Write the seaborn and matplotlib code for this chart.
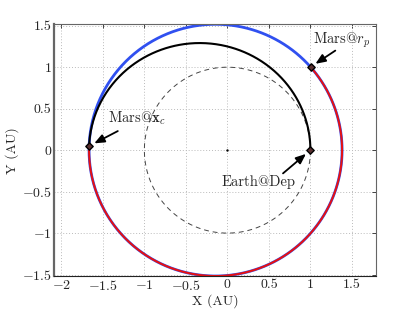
import numpy as np
import pandas as pd
import matplotlib
matplotlib.use("Agg")
import matplotlib.pyplot as plt
import seaborn as sns

# orbit elements (AU, deg)
earth_r = 1.0
mars_a = 1.524
mars_e = 0.0934
transfer_rp = 1.0
transfer_e = 0.25
theta_rp = 45.0      # Mars@r_p
theta_xc = 178.3     # Mars@x_c (arrival)
theta_dep = 0.0      # Earth@Dep

labels = ["Mars@$r_p$", "Mars@$\\mathbf{x}_c$", "Earth@Dep"]
label_xy = [(1.37, 1.33), (-1.09, 0.38), (0.37, -0.38)]
arrow_tail = [(1.30, 1.20), (-1.32, 0.23), (0.67, -0.28)]


def conic(p, e, th_deg):
    th = np.radians(th_deg)
    r = p / (1 + e * np.cos(th))
    return pd.DataFrame({"x": r * np.cos(th), "y": r * np.sin(th)})


mars_p = mars_a * (1 - mars_e ** 2)
trans_p = transfer_rp * (1 + transfer_e)

blue = conic(mars_p, mars_e, np.linspace(theta_rp, theta_rp + 360, 600))
red = conic(mars_p, mars_e, np.linspace(theta_xc, theta_rp + 360, 500))
black = conic(trans_p, transfer_e, np.linspace(theta_dep, theta_xc, 400))
earth = conic(earth_r, 0.0, np.linspace(0, 360, 400))

pts = pd.concat([conic(mars_p, mars_e, [theta_rp, theta_xc]),
                 conic(earth_r, 0.0, [theta_dep])], ignore_index=True)

sns.set_style("whitegrid")
plt.rcParams["font.family"] = "serif"
plt.rcParams["font.serif"] = ["cmr10", "DejaVu Serif"]
plt.rcParams["mathtext.fontset"] = "cm"
plt.rcParams["axes.formatter.use_mathtext"] = True
plt.rcParams["axes.unicode_minus"] = True

fig = plt.figure(figsize=(4.15, 3.12), dpi=100)
ax = fig.add_axes([0.1308, 0.1154, 0.7752, 0.8067])

sns.lineplot(data=earth, x="x", y="y", sort=False, estimator=None, ax=ax,
             color="#444444", lw=0.7, linestyle=(0, (5, 4)))
sns.lineplot(data=blue, x="x", y="y", sort=False, estimator=None, ax=ax,
             color="#3050f0", lw=2.0)
sns.lineplot(data=red, x="x", y="y", sort=False, estimator=None, ax=ax,
             color="#e81010", lw=1.4)
sns.lineplot(data=black, x="x", y="y", sort=False, estimator=None, ax=ax,
             color="black", lw=1.5)
sns.scatterplot(x=[0], y=[0], ax=ax, color="black", s=3, linewidth=0)
sns.scatterplot(data=pts, x="x", y="y", ax=ax, marker="D", s=14,
                color="#5a3030", edgecolor="black", linewidth=1.0, zorder=5)

for lab, xy, tail, (px, py) in zip(labels, label_xy, arrow_tail, pts.values):
    ax.text(xy[0], xy[1], lab, ha="center", va="center", fontsize=10.5)
    dx, dy = px - tail[0], py - tail[1]
    d = np.hypot(dx, dy)
    head = (px - dx / d * 0.07, py - dy / d * 0.07)
    ax.annotate("", xy=head, xytext=tail,
                arrowprops=dict(arrowstyle="-|>,head_length=0.6,head_width=0.25",
                                color="black", lw=1.3, shrinkA=0, shrinkB=0))

ax.set_xlim(-2.085, 1.79)
ax.set_ylim(-1.517, 1.517)
ax.set_xticks(np.arange(-2, 1.51, 0.5))
ax.set_yticks(np.arange(-1.5, 1.51, 0.5))
ax.set_xticklabels(["$-2$", "$-1.5$", "$-1$", "$-0.5$", "0", "0.5", "1", "1.5"])
ax.set_yticklabels(["$-1.5$", "$-1$", "$-0.5$", "0", "0.5", "1", "1.5"])
ax.grid(True, color="#bbbbbb", linestyle=(0, (1, 2)), lw=0.7)
ax.tick_params(direction="in", length=3, width=0.6, labelsize=10,
               top=True, right=True, pad=2)
for s in ax.spines.values():
    s.set_color("#666666")
    s.set_linewidth(0.8)
ax.spines["left"].set_linewidth(1.6)
ax.spines["bottom"].set_color("#222222")
ax.set_xlabel("X (AU)", fontsize=10, labelpad=1)
ax.set_ylabel("Y (AU)", fontsize=10, labelpad=2)

fig.savefig("out.png", dpi=100)
